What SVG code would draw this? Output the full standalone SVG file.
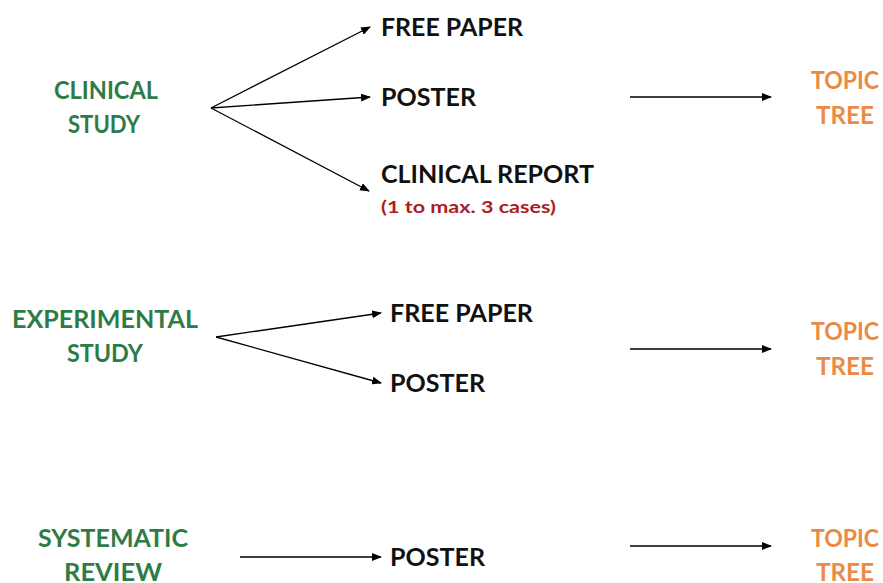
<svg xmlns="http://www.w3.org/2000/svg" width="883" height="583" viewBox="0 0 883 583">
<defs>
<marker id="ah" markerWidth="10" markerHeight="8" refX="9" refY="4" orient="auto" markerUnits="userSpaceOnUse">
<path d="M0,0 L10,4 L0,8 Z" fill="#000"/>
</marker>
<style>
text{font-family:"Lato","Open Sans","Liberation Sans",sans-serif;font-weight:bold}
.g{fill:#2e7b47;font-size:24px;text-anchor:middle}
.o{fill:#ea8a45;font-size:24px;text-anchor:middle}
.k{fill:#111;font-size:25px}
.r{fill:#ad1c22;font-size:17px}
.c line{stroke:#000;stroke-width:1.3;marker-end:url(#ah)}
</style>
</defs>
<rect width="883" height="583" fill="#fff"/>
<g class="c" id="connectors">
<line x1="211" y1="108" x2="370" y2="27"/>
<line x1="211" y1="108" x2="370" y2="97"/>
<line x1="211" y1="108" x2="369" y2="191"/>
<line x1="630" y1="97" x2="771" y2="97"/>
<line x1="216" y1="337" x2="381" y2="313"/>
<line x1="216" y1="337" x2="381" y2="383"/>
<line x1="630" y1="349" x2="771" y2="349"/>
<line x1="240" y1="557" x2="381" y2="557"/>
<line x1="630" y1="546" x2="771" y2="546"/>
</g>
<g id="clinical-study"><text class="g" x="106" y="99" textLength="104" lengthAdjust="spacingAndGlyphs">CLINICAL</text><text class="g" x="104" y="133" textLength="72" lengthAdjust="spacingAndGlyphs">STUDY</text></g>
<g id="free-paper-1"><text class="k" x="381" y="36" textLength="142" lengthAdjust="spacingAndGlyphs">FREE PAPER</text></g>
<g id="poster-1"><text class="k" x="381" y="106" textLength="95" lengthAdjust="spacingAndGlyphs">POSTER</text></g>
<g id="clinical-report"><text class="k" x="381" y="183" textLength="213" lengthAdjust="spacingAndGlyphs">CLINICAL REPORT</text><text class="r" x="381" y="213" textLength="175" lengthAdjust="spacingAndGlyphs">(1 to max. 3 cases)</text></g>
<g id="topic-tree-1"><text class="o" x="845" y="89" textLength="68" lengthAdjust="spacingAndGlyphs">TOPIC</text><text class="o" x="845" y="124" textLength="58" lengthAdjust="spacingAndGlyphs">TREE</text></g>
<g id="experimental-study"><text class="g" x="105" y="328" textLength="186" lengthAdjust="spacingAndGlyphs">EXPERIMENTAL</text><text class="g" x="105" y="362" textLength="76" lengthAdjust="spacingAndGlyphs">STUDY</text></g>
<g id="free-paper-2"><text class="k" x="390" y="322" textLength="143" lengthAdjust="spacingAndGlyphs">FREE PAPER</text></g>
<g id="poster-2"><text class="k" x="390" y="392" textLength="95" lengthAdjust="spacingAndGlyphs">POSTER</text></g>
<g id="topic-tree-2"><text class="o" x="845" y="340" textLength="68" lengthAdjust="spacingAndGlyphs">TOPIC</text><text class="o" x="845" y="375" textLength="58" lengthAdjust="spacingAndGlyphs">TREE</text></g>
<g id="systematic-review"><text class="g" x="113" y="547" textLength="150" lengthAdjust="spacingAndGlyphs">SYSTEMATIC</text><text class="g" x="113" y="581" textLength="98" lengthAdjust="spacingAndGlyphs">REVIEW</text></g>
<g id="poster-3"><text class="k" x="390" y="566" textLength="95" lengthAdjust="spacingAndGlyphs">POSTER</text></g>
<g id="topic-tree-3"><text class="o" x="845" y="547" textLength="68" lengthAdjust="spacingAndGlyphs">TOPIC</text><text class="o" x="845" y="581" textLength="58" lengthAdjust="spacingAndGlyphs">TREE</text></g>
</svg>
